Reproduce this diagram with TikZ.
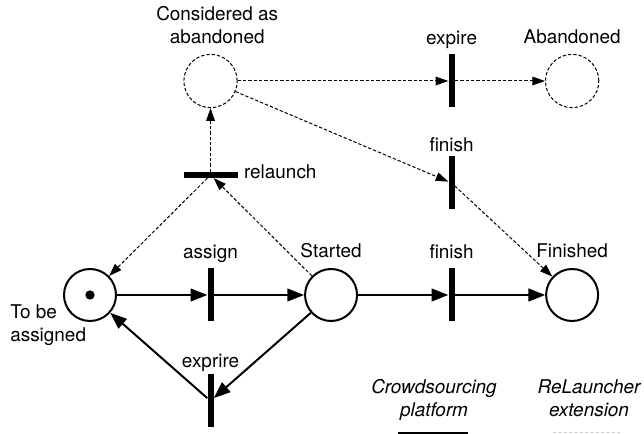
\documentclass[tikz,border=0pt]{standalone}
\usepackage{fontspec}
\setmainfont{TeX Gyre Heros}
\usepackage{tikz}
\usetikzlibrary{positioning, arrows.meta, shapes}
\newcommand{\petrifont}{\fontsize{14.2pt}{17pt}\selectfont}
\tikzstyle{place} = [circle, draw, line width=1.5pt, minimum size=39pt, inner sep=0pt]
\tikzstyle{xplace} = [circle, draw, line width=0.75pt, dash pattern=on 2.5pt off 1.5pt, minimum size=40pt, inner sep=0pt]
\tikzstyle{token} = [circle, fill=black, minimum size=7pt, inner sep=0pt]
\tikzstyle{trans} = [rectangle, fill=black, minimum width=4.5pt, minimum height=39.75pt, inner sep=0pt]
\tikzstyle{htrans} = [rectangle, fill=black, minimum width=40.5pt, minimum height=4.25pt, inner sep=0pt]
\tikzstyle{lbl} = [inner sep=0pt, align=center]
\tikzstyle{arrow} = [line width=1.5pt, -{Triangle[length=12.5pt, width=9.5pt]}]
\tikzstyle{darrow} = [line width=0.75pt, dash pattern=on 2.5pt off 1.5pt, -{Triangle[length=9.5pt, width=6.5pt]}]

\begin{document}
\begin{tikzpicture}[x=0.75pt, y=-0.75pt, node distance=90.4pt]
        \tikzstyle{every node}=[font=\petrifont]
        \useasboundingbox (0,0) rectangle (644,434);
        % lower net
        \node (ToBe) [place] at (90,295) {};
        \node (Token) [token] at (ToBe) {};
        \node (Assign) [trans, right of=ToBe] {};
        \node (Started) [place, right of=Assign] {};
        \node (FinishLow) [trans, right of=Started] {};
        \node (Finished) [place, right of=FinishLow] {};
        \node (Exprire) [trans, below of=Assign, node distance=79.5pt] {};
        % relauncher part
        \node (Relaunch) [htrans, above of=Assign, node distance=90pt] {};
        \node (Considered) [xplace, above of=Relaunch, node distance=70.5pt] {};
        \node (Expire) [trans, right of=Considered, node distance=180.8pt] {};
        \node (Abandoned) [xplace, right of=Expire] {};
        \node (FinishTop) [trans, below of=Expire, node distance=76.5pt] {};

        \node (ConsideredText) [lbl, anchor=south] at ([xshift=5pt, yshift=7.5pt]Considered.north) {Considered as\\abandoned};
        \node (ExpireText) [lbl, anchor=base] at ([yshift=7.5pt]Expire.north) {expire};
        \node (AbandonedText) [lbl, anchor=base] at ([yshift=7.5pt]Abandoned.north) {Abandoned};
        \node (FinishTopText) [lbl, anchor=base] at ([yshift=3.75pt]FinishTop.north) {finish};
        \node (RelaunchText) [lbl, anchor=base west] at ([xshift=4.5pt, yshift=-2.6pt]Relaunch.east) {relaunch};
        \node (AssignText) [lbl, anchor=base] at ([yshift=7.5pt]Assign.north) {assign};
        \node (StartedText) [lbl, anchor=base] at ([yshift=7.5pt]Started.north) {Started};
        \node (FinishLowText) [lbl, anchor=base] at ([yshift=7.5pt]FinishLow.north) {finish};
        \node (FinishedText) [lbl, anchor=base] at ([yshift=7.5pt]Finished.north) {Finished};
        \node (ExprireText) [lbl, anchor=base] at ([yshift=5.25pt]Exprire.north) {exprire};
        \node (ToBeText) [lbl, align=left, anchor=north west] at (10,304.5) {To be\\assigned};
        % legend
        \node (PlatformText) [lbl, anchor=north, font=\petrifont\itshape] at (434,379.5) {Crowdsourcing\\platform};
        \node (ExtensionText) [lbl, anchor=north, font=\petrifont\itshape] at (589,379.5) {ReLauncher\\extension};
        \coordinate (PlatformL) at (398,433);
        \coordinate (PlatformR) at (468,433);
        \coordinate (ExtensionL) at (553,433);
        \coordinate (ExtensionR) at (621,433);

        \draw [arrow] (ToBe) -- (Assign);
        \draw [arrow] (Assign) -- (Started);
        \draw [arrow] (Started) -- (FinishLow);
        \draw [arrow] (FinishLow) -- (Finished);
        \draw [arrow] (Started) -- (Exprire);
        \draw [arrow] (Exprire) -- (ToBe);
        \draw [darrow] (Considered) -- (Expire);
        \draw [darrow] (Expire) -- (Abandoned);
        \draw [darrow] (Considered) -- (FinishTop);
        \draw [darrow] (FinishTop) -- (Finished);
        \draw [darrow] (Started) -- (Relaunch);
        \draw [darrow] (Relaunch) -- (ToBe);
        \draw [darrow] (Relaunch) -- (Considered);
        \draw [line width=1.2pt] (PlatformL) -- (PlatformR);
        \draw [gray!35, line width=0.75pt, dash pattern=on 2.5pt off 1.5pt] (ExtensionL) -- (ExtensionR);
\end{tikzpicture}
\end{document}
